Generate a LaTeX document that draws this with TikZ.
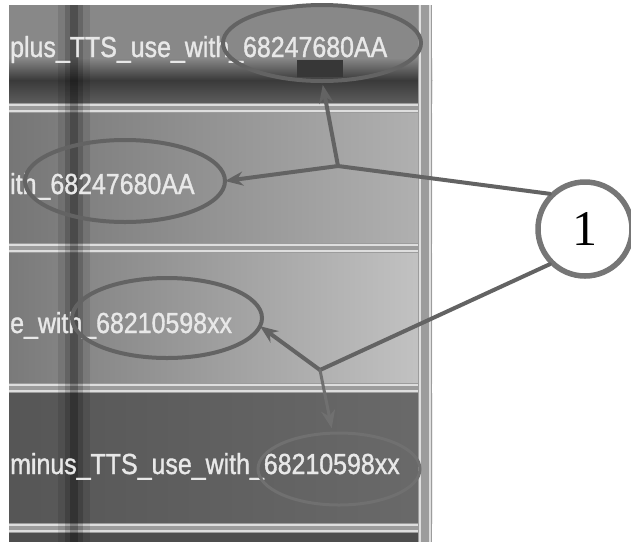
\documentclass[tikz,border=0pt]{standalone}
\usepackage{fontspec}
\setmainfont{Liberation Serif}
\newfontfamily\shotfont[FakeStretch=0.86,FakeBold=1.2]{Liberation Sans}
\usetikzlibrary{arrows.meta,shapes.geometric}
\definecolor{ann}{HTML}{636363}
\definecolor{annfaint}{HTML}{707070}
\definecolor{circgray}{HTML}{767676}
\definecolor{sepline}{HTML}{dedede}
\definecolor{sepgap}{HTML}{9c9c9c}
\definecolor{shottxt}{HTML}{e8e8e8}
\tikzset{
  shottext/.style={anchor=base west, inner sep=0pt, text=shottxt, font=\shotfont\fontsize{29}{32}\selectfont},
  mark ellipse/.style={ellipse, draw=ann, line width=4pt, inner sep=0pt, outer sep=0pt},
  annline/.style={draw=ann, line width=4pt, line cap=round, line join=round},
  annarrow/.style={annline, -{Stealth[length=18pt,width=14pt]}},
  callout/.style={circle, draw=circgray, line width=5.5pt, fill=white, minimum size=94pt, inner sep=0pt, font=\fontsize{50}{56}\selectfont}
}
\begin{document}
\begin{tikzpicture}[x=1pt,y=-1pt]
\useasboundingbox (0,0) rectangle (631,542);
\fill[white] (0,0) rectangle (631,542);
% ---------- screenshot background ----------
% row 1
\fill[fill={rgb,255:red,136;green,136;blue,136}] (9,5) rectangle (432,58);
\shade[top color={rgb,255:red,136;green,136;blue,136}, bottom color={rgb,255:red,58;green,58;blue,58}] (9,58) rectangle (432,80);
\shade[top color={rgb,255:red,58;green,58;blue,58}, bottom color={rgb,255:red,92;green,92;blue,92}] (9,80) rectangle (432,103);
\fill[fill={rgb,255:red,55;green,55;blue,55}] (297,60) rectangle (343,77);
% row 2
\shade[left color={rgb,255:red,118;green,118;blue,118}, right color={rgb,255:red,178;green,178;blue,178}] (9,113) rectangle (432,243);
% row 3
\shade[left color={rgb,255:red,122;green,122;blue,122}, right color={rgb,255:red,196;green,196;blue,196}] (9,253) rectangle (432,383);
% row 4
\shade[left color={rgb,255:red,86;green,86;blue,86}, right color={rgb,255:red,106;green,106;blue,106}] (9,393) rectangle (432,523);
% bottom strip
\fill[fill={rgb,255:red,78;green,78;blue,78}] (9,533) rectangle (432,542);
% separators
\foreach \ya in {103,243,383,523}{
  \fill[sepgap] (9,\ya) rectangle (432,\ya+10);
  \draw[sepline, line width=2pt] (9,\ya+2) -- (432,\ya+2);
  \draw[sepline, line width=2pt] (9,\ya+8) -- (432,\ya+8);
}
% right vertical separator
\fill[sepgap] (418,5) rectangle (432,542);
\draw[sepline, line width=2pt] (419.5,5) -- (419.5,542);
\draw[sepline, line width=2pt] (429.5,5) -- (429.5,542);
% dark vertical smear
\fill[black, opacity=0.10] (58,5) rectangle (90,542);
\fill[black, opacity=0.16] (65,5) rectangle (83,542);
\fill[black, opacity=0.22] (70,5) rectangle (78,542);
% ---------- screenshot texts ----------
\node[shottext] (t1) at (10,57) {plus\_TTS\_use\_with\_68247680AA};
\node[shottext] (t2) at (10,194) {ith\_68247680AA};
\node[shottext] (t3) at (10,333) {e\_with\_68210598xx};
\node[shottext] (t4) at (10,474) {minus\_TTS\_use\_with\_68210598xx};
% ---------- annotations ----------
\node[mark ellipse, minimum width=198pt, minimum height=76pt] (e1) at (322,43) {};
\node[mark ellipse, minimum width=200pt, minimum height=82pt] (e2) at (125,181) {};
\node[mark ellipse, minimum width=190pt, minimum height=80pt] (e3) at (167,318) {};
\node[mark ellipse, draw=annfaint, line width=3pt, minimum width=162pt, minimum height=72pt] (e4) at (339,469) {};
\node[callout] (c1) at (585,229) {1};
\coordinate (j1) at (338,166);
\coordinate (j2) at (320,370);
\draw[annline] (c1.135) -- (j1);
\draw[annline] (c1.225) -- (j2);
\draw[annarrow, shorten >=4pt] (j1) -- (e1.south);
\draw[annarrow] (j1) -- (e2.east);
\draw[annarrow] (j2) -- (e3.-5);
\draw[annarrow, draw=annfaint, line width=3pt, shorten >=5pt] (j2) -- (e4.100);
\end{tikzpicture}
\end{document}
